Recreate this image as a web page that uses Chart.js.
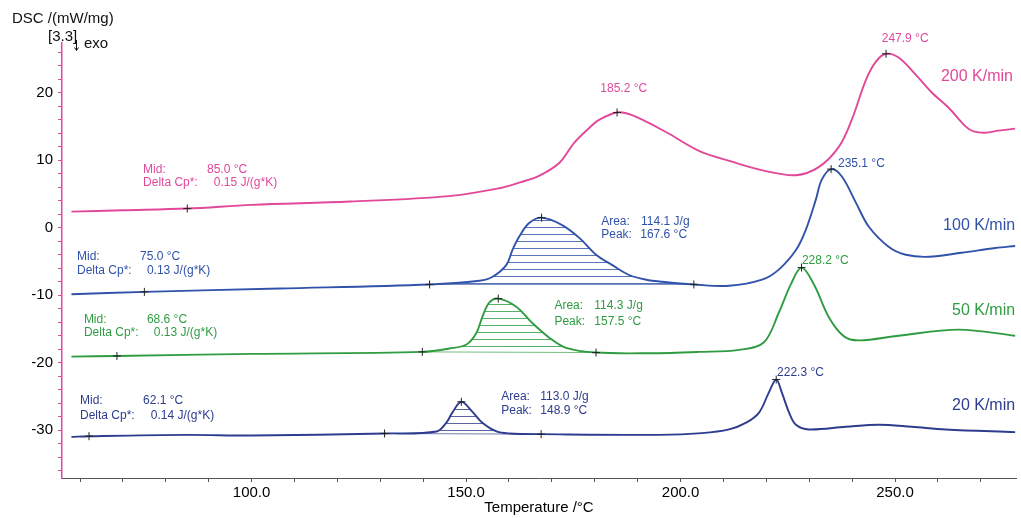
<!DOCTYPE html>
<html>
<head>
<meta charset="utf-8">
<script src="https://cdn.jsdelivr.net/npm/chart.js@4.4.1/dist/chart.umd.min.js"></script>
<style>
  html, body { margin: 0; padding: 0; background: #fff; }
  canvas { display: block; }
</style>
</head>
<body>
<canvas id="dsc" width="1021" height="518"></canvas>
<script>
// --- data (temperature in °C, DSC in mW/mg) ---
const rate200T = [58, 70, 85, 100, 123, 146, 158, 162.4, 167, 171.7, 175.2, 178.7, 181, 185.2, 188.7, 196.6, 204.3, 212, 219.9, 226.9, 232.2, 236.9, 239.9, 243.2, 245.5, 247.9, 250.9, 254.8, 258.5, 262.5, 266.5, 268.3, 271, 274.1, 278];
const rate200Y = [2.4, 2.6, 2.85, 3.4, 3.9, 4.7, 5.9, 6.7, 7.7, 9.6, 12.6, 14.8, 16.0, 17.1, 16.7, 14.2, 11.4, 9.8, 8.4, 7.8, 9.0, 12.0, 16.0, 21.9, 24.6, 25.8, 25.2, 22.7, 20.1, 17.8, 15.0, 14.3, 14.1, 14.4, 14.7];

const rate100T = [58, 75, 106.5, 141.5, 153.1, 156.1, 159.4, 160.8, 162.4, 164.7, 167.6, 172.4, 176.4, 180.3, 184, 188, 192, 195.7, 203.1, 211.3, 219, 222.9, 226.9, 229.2, 231.5, 232.9, 235.1, 237.6, 240.9, 243.9, 248.5, 252.5, 257.9, 265.5, 273.4, 278];
const rate100Y = [-9.85, -9.5, -9.0, -8.4, -7.85, -7.3, -5.5, -3.3, -1.3, 0.7, 1.5, 0.4, -1.5, -4.0, -5.5, -7.0, -7.7, -8.0, -8.4, -8.6, -7.7, -6.2, -3.3, -0.3, 4.1, 7.1, 8.7, 7.6, 3.7, 0.15, -2.8, -4.0, -4.3, -3.7, -3.0, -2.7];

const rate50T = [58, 68.6, 100, 139.8, 146.1, 150.1, 152.4, 153.8, 155.4, 157.5, 161.7, 165.4, 169.4, 173.3, 180.3, 192.6, 204.3, 213.6, 219.4, 222.9, 225.7, 228.2, 231.1, 234.6, 238.1, 241.6, 250.9, 264.8, 278];
const rate50Y = [-19.1, -19.0, -18.7, -18.4, -17.9, -17.3, -15.6, -13.2, -11.1, -10.5, -11.7, -14.1, -16.3, -17.8, -18.5, -18.6, -18.4, -18.1, -17.0, -12.6, -8.4, -5.9, -8.4, -13.3, -16.1, -16.7, -16.0, -15.1, -16.0];

const rate20T = [58, 62.1, 85, 100, 131, 143.1, 145.4, 146.8, 148.9, 151.5, 153.8, 157.1, 160.1, 167.5, 195, 205, 211.3, 215.3, 218.3, 220.6, 222.3, 223.6, 225.3, 226.9, 229.9, 238.5, 246.2, 253.9, 261.8, 278];
const rate20Y = [-31.0, -30.9, -30.7, -30.8, -30.5, -30.2, -28.9, -27.4, -25.8, -27.3, -28.9, -30.2, -30.5, -30.6, -30.7, -30.45, -29.9, -28.9, -27.4, -24.4, -22.5, -24.4, -27.4, -29.2, -29.9, -29.5, -29.2, -29.5, -29.9, -30.3];

// evaluation marks [T, value]
const marks200 = [[85.0, 2.85], [185.2, 17.1], [247.9, 25.8]];
const marks100 = [[75.0, -9.5], [141.5, -8.4], [167.6, 1.5], [203.1, -8.4], [235.1, 8.7]];
const marks50 = [[68.6, -19.0], [139.8, -18.4], [157.5, -10.5], [180.3, -18.5], [228.2, -5.9]];
const marks20 = [[62.1, -30.9], [131.0, -30.5], [148.9, -25.8], [167.5, -30.6], [222.3, -22.5]];

// peak-area baselines [start, end]
const base100 = [141.5, 203.1];
const base50 = [139.8, 180.3];
const base20 = [131.0, 167.5];

const xTickValues = [60, 70, 80, 90, 100, 110, 120, 130, 140, 150, 160, 170, 180, 190, 200, 210, 220, 230, 240, 250, 260, 270];
const yTickValues = [-36, -34, -32, -30, -28, -26, -24, -22, -20, -18, -16, -14, -12, -10, -8, -6, -4, -2, 0, 2, 4, 6, 8, 10, 12, 14, 16, 18, 20, 22, 24, 26];

const seriesNames = ['200 K/min', '100 K/min', '50 K/min', '20 K/min'];

// --- colours ---
const cPink = '#e2489a';
const cBlue = '#3152aa';
const cGreen = '#2f9c42';
const cNavy = '#2d3c8e';

const pts = (T, Y) => T.map((t, i) => ({ x: t, y: Y[i] }));
const markPts = m => m.map(p => ({ x: p[0], y: p[1] }));
const subset = (T, Y, r) => pts(T, Y).filter(p => p.x >= r[0] && p.x <= r[1]);
const valueAt = (T, Y, t) => Y[T.indexOf(t)];

function hatch(color) {
  const c = document.createElement('canvas');
  c.width = 8; c.height = 7;
  const g = c.getContext('2d');
  g.fillStyle = color;
  g.fillRect(0, 3, 8, 1);
  return g.createPattern(c, 'repeat');
}

const datasets = [];
function addCurve(T, Y, color) {
  datasets.push({
    data: pts(T, Y), borderColor: color, borderWidth: 1.9, pointRadius: 0,
    tension: 0.35, fill: false, order: 1
  });
}
function addArea(T, Y, range, color) {
  const baseIdx = datasets.length;
  datasets.push({
    data: [{ x: range[0], y: valueAt(T, Y, range[0]) }, { x: range[1], y: valueAt(T, Y, range[1]) }],
    borderColor: color + 'aa', borderWidth: 1, pointRadius: 0, fill: false, order: 2
  });
  datasets.push({
    data: subset(T, Y, range), borderWidth: 0, pointRadius: 0, tension: 0.35,
    backgroundColor: hatch(color + 'cc'), fill: { target: baseIdx }, order: 3
  });
}
function addMarks(m) {
  datasets.push({
    data: markPts(m), showLine: false, pointStyle: 'cross', pointRadius: 4,
    pointBorderColor: '#222', pointBorderWidth: 1, order: 0
  });
}

addCurve(rate200T, rate200Y, cPink);
addCurve(rate100T, rate100Y, cBlue);
addCurve(rate50T, rate50Y, cGreen);
addCurve(rate20T, rate20Y, cNavy);
addArea(rate100T, rate100Y, base100, cBlue);
addArea(rate50T, rate50Y, base50, cGreen);
addArea(rate20T, rate20Y, base20, cNavy);
addMarks(marks200);
addMarks(marks100);
addMarks(marks50);
addMarks(marks20);

// text annotations in data coordinates [text, T, value, colour, size, align]
const notes = [
  ['Mid:', 74.7, 8.6, cPink, 12, 'left'], ['85.0 °C', 89.6, 8.6, cPink, 12, 'left'],
  ['Delta Cp*:', 74.7, 6.67, cPink, 12, 'left'], ['0.15 J/(g*K)', 91.2, 6.67, cPink, 12, 'left'],
  ['Mid:', 59.3, -4.3, cBlue, 12, 'left'], ['75.0 °C', 74.0, -4.3, cBlue, 12, 'left'],
  ['Delta Cp*:', 59.3, -6.37, cBlue, 12, 'left'], ['0.13 J/(g*K)', 75.6, -6.37, cBlue, 12, 'left'],
  ['Mid:', 60.9, -13.6, cGreen, 12, 'left'], ['68.6 °C', 75.6, -13.6, cGreen, 12, 'left'],
  ['Delta Cp*:', 60.9, -15.55, cGreen, 12, 'left'], ['0.13 J/(g*K)', 77.2, -15.55, cGreen, 12, 'left'],
  ['Mid:', 60.0, -25.6, cNavy, 12, 'left'], ['62.1 °C', 74.7, -25.6, cNavy, 12, 'left'],
  ['Delta Cp*:', 60.0, -27.85, cNavy, 12, 'left'], ['0.14 J/(g*K)', 76.5, -27.85, cNavy, 12, 'left'],
  ['Area:', 181.5, 0.9, cBlue, 12, 'left'], ['114.1 J/g', 190.8, 0.9, cBlue, 12, 'left'],
  ['Peak:', 181.5, -1.04, cBlue, 12, 'left'], ['167.6 °C', 190.6, -1.04, cBlue, 12, 'left'],
  ['Area:', 170.6, -11.56, cGreen, 12, 'left'], ['114.3 J/g', 179.9, -11.56, cGreen, 12, 'left'],
  ['Peak:', 170.6, -13.93, cGreen, 12, 'left'], ['157.5 °C', 179.9, -13.93, cGreen, 12, 'left'],
  ['Area:', 158.2, -25.04, cNavy, 12, 'left'], ['113.0 J/g', 167.3, -25.04, cNavy, 12, 'left'],
  ['Peak:', 158.2, -27.1, cNavy, 12, 'left'], ['148.9 °C', 167.3, -27.1, cNavy, 12, 'left'],
  ['185.2 °C', 181.3, 20.6, cPink, 12, 'left'],
  ['247.9 °C', 246.9, 28.1, cPink, 12, 'left'],
  ['235.1 °C', 236.7, 9.5, cBlue, 12, 'left'],
  ['228.2 °C', 228.3, -4.9, cGreen, 12, 'left'],
  ['222.3 °C', 222.5, -21.5, cNavy, 12, 'left'],
  [seriesNames[0], 277.5, 22.4, cPink, 16, 'right'],
  [seriesNames[1], 278.0, 0.3, cBlue, 16, 'right'],
  [seriesNames[2], 278.0, -12.3, cGreen, 16, 'right'],
  [seriesNames[3], 278.0, -26.4, cNavy, 16, 'right']
];

const FONT = '"Liberation Sans", Arial, sans-serif';

const textPlugin = {
  id: 'dscText',
  afterDraw(chart) {
    const ctx = chart.ctx;
    const xs = chart.scales.x, ys = chart.scales.y;
    ctx.save();
    ctx.textBaseline = 'middle';
    notes.forEach(n => {
      ctx.font = n[4] + 'px ' + FONT;
      ctx.fillStyle = n[3];
      ctx.textAlign = n[5];
      ctx.fillText(n[0], xs.getPixelForValue(n[1]), ys.getPixelForValue(n[2]));
    });
    // y axis caption
    ctx.fillStyle = '#111';
    ctx.textAlign = 'left';
    ctx.font = '15px ' + FONT;
    ctx.fillText('DSC /(mW/mg)', 12, 19);
    ctx.fillText('[3.3]', 48, 37);
    ctx.fillText('exo', 84, 44);
    // little exo arrow
    ctx.strokeStyle = '#111';
    ctx.lineWidth = 1;
    ctx.beginPath();
    ctx.moveTo(76.5, 40); ctx.lineTo(76.5, 50);
    ctx.moveTo(74.5, 47.5); ctx.lineTo(76.5, 50.5); ctx.lineTo(78.5, 47.5);
    ctx.stroke();
    ctx.restore();
  }
};

new Chart(document.getElementById('dsc'), {
  type: 'line',
  data: { datasets: datasets },
  options: {
    responsive: false,
    animation: false,
    devicePixelRatio: 1,
    layout: { padding: { top: 43, right: 3, left: 0, bottom: 0 } },
    plugins: { legend: { display: false }, tooltip: { enabled: false }, filler: { propagate: false } },
    scales: {
      x: {
        type: 'linear', min: 55.8, max: 278.2,
        afterBuildTicks: s => { s.ticks = xTickValues.map(v => ({ value: v })); },
        afterFit: s => { s.height = 40; },
        ticks: {
          autoSkip: false, maxRotation: 0, padding: 2, color: '#000',
          font: { size: 15, family: FONT },
          callback: v => (v % 50 === 0 ? v.toFixed(1) : '')
        },
        grid: { drawOnChartArea: false, color: '#555', tickLength: 4 },
        border: { color: '#555', width: 1 },
        title: {
          display: true, text: 'Temperature /°C', color: '#000',
          font: { size: 15, family: FONT }, padding: { top: 0, bottom: 1 }
        }
      },
      y: {
        min: -37.1, max: 27.4,
        afterBuildTicks: s => { s.ticks = yTickValues.map(v => ({ value: v })); },
        afterFit: s => { s.width = 62; },
        ticks: {
          autoSkip: false, padding: 5, color: '#000',
          font: { size: 15, family: FONT },
          callback: v => (v % 10 === 0 ? String(v) : '')
        },
        grid: { drawOnChartArea: false, color: cPink, tickLength: 4 },
        border: { color: cPink, width: 1.5 }
      }
    }
  },
  plugins: [textPlugin]
});
</script>
</body>
</html>
